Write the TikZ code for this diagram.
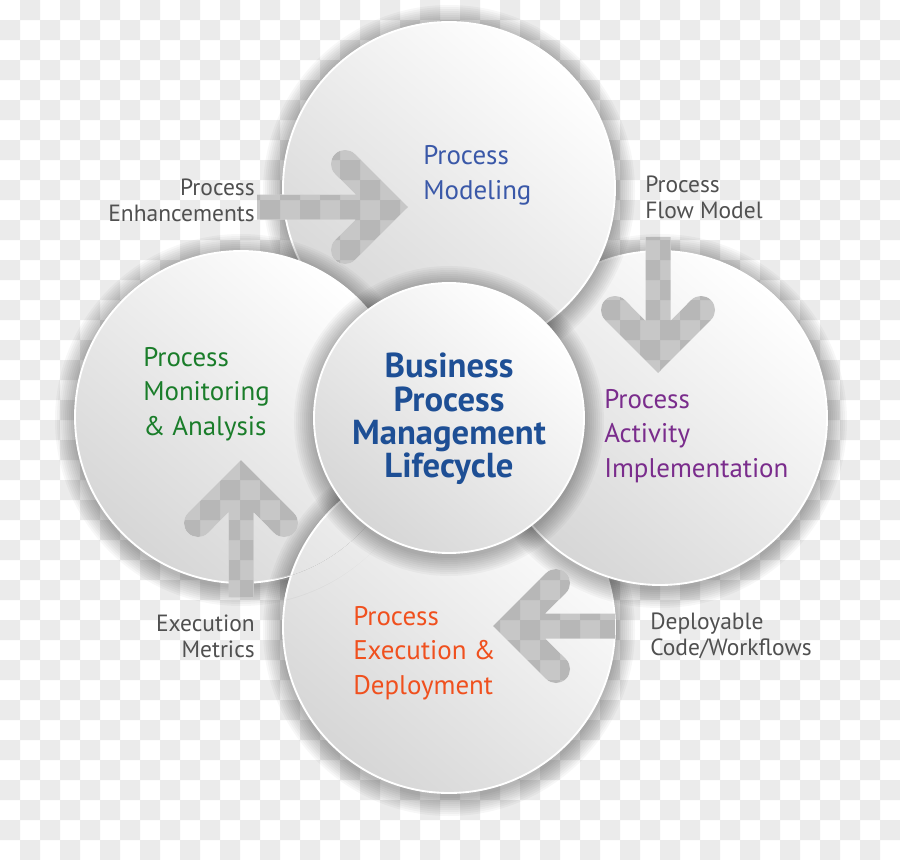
\documentclass[tikz,border=0pt]{standalone}
\usepackage{fontspec}
\setmainfont{PT Sans}
\definecolor{checkgray}{HTML}{EBEBEB}
\definecolor{modelblue}{HTML}{3A58A8}
\definecolor{coreblue}{HTML}{1E4F95}
\definecolor{implpurple}{HTML}{7A2C8C}
\definecolor{execorange}{HTML}{F0501E}
\definecolor{monitorgreen}{HTML}{1A7D2A}
\definecolor{flowgray}{HTML}{505050}
\tikzset{
  disc/.style={shading=axis, bottom color=black!16, top color=white, shading angle=-40,
    draw=white, line width=1.4pt},
  hole/.style={fill=black, fill opacity=0.22},
  phase/.style={inner sep=0pt, anchor=west, align=left, font=\fontsize{20.2}{26}\selectfont},
  core/.style={inner sep=0pt, align=center, text=coreblue, font=\bfseries\fontsize{26}{25}\selectfont},
  flow/.style={inner sep=0pt, text=flowgray, font=\fontsize{17.6}{19.5}\selectfont},
}
% transparent-looking background
\newcommand\checkerboard{%
  \fill[white] (0,0) rectangle (900,860);
  \fill[checkgray] foreach \x in {20,60,...,900} {foreach \y in {0,40,...,860} {(\x,\y) rectangle ++(20,20)}}
    foreach \x in {0,40,...,880} {foreach \y in {20,60,...,860} {(\x,\y) rectangle ++(20,20)}};
}
% soft halo under a disc
\newcommand\discshadow[2]{%
  \foreach \k in {1,...,10}
    \fill[black, opacity=0.03] (#1) ++(0,3) circle[radius={#2+2*\k}];
}
% arrow cut out of the discs: tip, rotation, shaft length
\newcommand\cutarrow[3]{%
  \begin{scope}
    \clip[shift={#1}, rotate=#2] (0,0) -- (-53.1,-52.9) arc[start angle=-45, end angle=-225, radius=14]
      -- (-52.1,-12.5) -- (-#3,-12.5) -- (-#3,12.5) -- (-52.1,12.5) -- (-72.9,33.1)
      arc[start angle=225, end angle=45, radius=14] -- cycle;
    \checkerboard
    \fill[hole] (0,0) rectangle (900,860);
  \end{scope}
}
\begin{document}
\begin{tikzpicture}[x=0.75pt, y=-0.75pt]
  \useasboundingbox (0,0) rectangle (900,860);
  % Background
  \checkerboard
  % Centres
  \coordinate (cT) at (449,188);
  \coordinate (cR) at (660,418);
  \coordinate (cB) at (449,627);
  \coordinate (cL) at (241,417);
  \coordinate (cC) at (449,418);
  % Discs, back to front
  \discshadow{cB}{166} \path[disc] (cB) circle[radius=166];
  \discshadow{cR}{167} \path[disc] (cR) circle[radius=167];
  \discshadow{cT}{166} \path[disc] (cT) circle[radius=166];
  \discshadow{cL}{166} \path[disc] (cL) circle[radius=166];
  % Bottom disc again over the left one
  \begin{scope}
    \clip (cL) circle[radius=188];
    \path[disc] (cB) circle[radius=166];
  \end{scope}
  \begin{scope}
    \clip (cL) circle[radius=166];
    \discshadow{cB}{166} \path[disc] (cB) circle[radius=166];
  \end{scope}
  % Centre disc
  \discshadow{cC}{135} \path[disc] (cC) circle[radius=135];
  % Arrows
  \cutarrow{(408,207)}{0}{151}
  \cutarrow{(658,373)}{-90}{136}
  \cutarrow{(241,460)}{90}{137}
  \cutarrow{(493,626)}{180}{122}
  % Phases
  \node[phase, text=modelblue] (modeling) at (423,175) {Process\\Modeling};
  \node[phase, text=implpurple] (implement) at (604,436) {Process\\Activity\\Implementation};
  \node[phase, text=execorange] (execution) at (353,653) {Process\\Execution \&\\Deployment};
  \node[phase, text=monitorgreen] (monitoring) at (143,394) {Process\\Monitoring\\\& Analysis};
  \node[core] (lifecycle) at (449,419) {Business\\Process\\Management\\Lifecycle};
  % Flows
  \node[flow, anchor=east, align=right] (enhance) at (255,200) {Process\\Enhancements};
  \node[flow, anchor=west, align=left] (flowmodel) at (645,197) {Process\\Flow Model};
  \node[flow, anchor=east, align=right] (metrics) at (255,636) {Execution\\Metrics};
  \node[flow, anchor=west, align=left] (deploy) at (650,636) {Deployable\\Code/Workflows};
\end{tikzpicture}
\end{document}
